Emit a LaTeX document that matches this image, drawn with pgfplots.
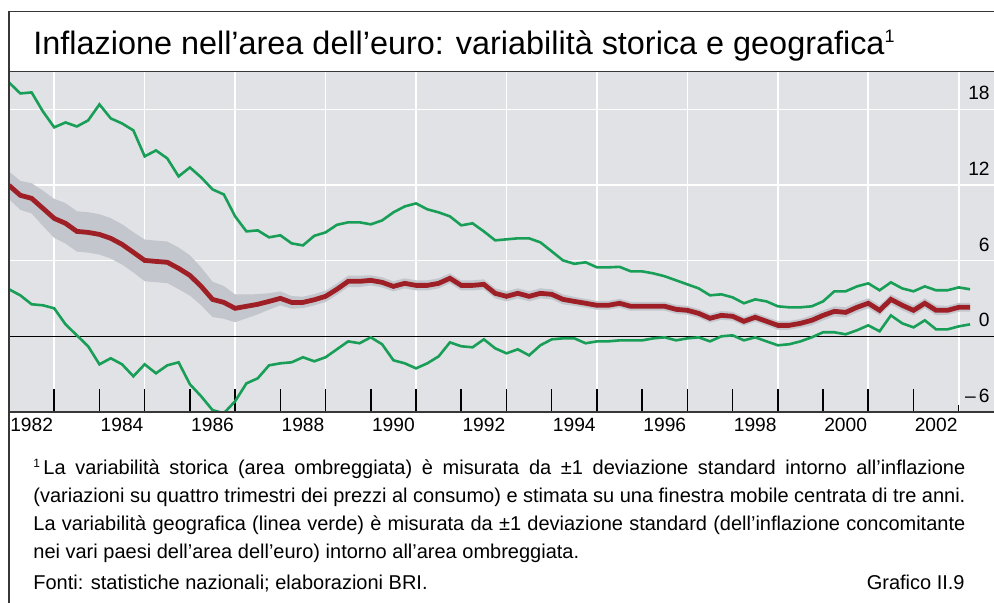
\documentclass[border=0pt]{standalone}
\usepackage{fontspec}
\setmainfont{Liberation Sans}
\usepackage{pgfplots}
\pgfplotsset{compat=1.18}
\usepgfplotslibrary{fillbetween}
\usepackage{pgfplotstable}

\definecolor{bggray}{RGB}{225,226,230}
\definecolor{bandgray}{RGB}{195,198,204}
\definecolor{infl}{RGB}{158,32,38}
\definecolor{geo}{RGB}{24,158,86}
\definecolor{framec}{RGB}{55,55,55}

% small raised footnote mark: #1 size, #2 raise
\newcommand{\fnmark}[2]{\raisebox{#2}{\fontsize{#1}{#1}\selectfont 1}}

% yr: quarter; mid: inflation; lo/hi: historical band; glo/ghi: geographic lines
\pgfplotstableread{
yr mid lo hi glo ghi
1982.00 11.97 10.87 13.07 3.73 20.13
1982.25 11.18 10.03 12.33 3.25 19.26
1982.50 10.94 9.74 12.14 2.54 19.34
1982.75 10.15 8.75 11.55 2.46 17.83
1983.00 9.35 7.80 10.90 2.22 16.57
1983.25 8.96 7.36 10.56 0.95 16.96
1983.50 8.32 6.72 9.92 0.08 16.64
1983.75 8.24 6.64 9.84 -0.79 17.12
1984.00 8.08 6.48 9.68 -2.22 18.39
1984.25 7.77 6.17 9.37 -1.74 17.28
1984.50 7.29 5.69 8.89 -2.22 16.88
1984.75 6.66 5.06 8.26 -3.17 16.33
1985.00 6.02 4.37 7.67 -2.22 14.27
1985.25 5.94 4.29 7.59 -2.93 14.74
1985.50 5.87 4.22 7.52 -2.30 14.11
1985.75 5.39 3.74 7.04 -2.06 12.68
1986.00 4.83 3.23 6.43 -3.80 13.39
1986.25 3.96 2.46 5.46 -4.76 12.60
1986.50 2.93 1.53 4.33 -5.85 11.65
1986.75 2.69 1.39 3.99 -6.10 11.25
1987.00 2.22 1.12 3.32 -5.15 9.51
1987.25 2.38 1.43 3.33 -3.73 8.32
1987.50 2.54 1.74 3.34 -3.33 8.40
1987.75 2.77 2.12 3.42 -2.30 7.85
1988.00 3.01 2.46 3.56 -2.14 8.01
1988.25 2.69 2.19 3.19 -2.06 7.37
1988.50 2.69 2.24 3.14 -1.66 7.21
1988.75 2.90 2.45 3.35 -1.98 7.97
1989.00 3.17 2.72 3.62 -1.66 8.24
1989.25 3.73 3.28 4.18 -1.03 8.84
1989.50 4.36 3.91 4.81 -0.40 9.04
1989.75 4.36 3.91 4.81 -0.55 9.04
1990.00 4.44 4.04 4.84 -0.08 8.88
1990.25 4.28 3.88 4.68 -0.63 9.19
1990.50 3.96 3.56 4.36 -1.90 9.83
1990.75 4.20 3.80 4.60 -2.14 10.30
1991.00 4.04 3.64 4.44 -2.54 10.54
1991.25 4.04 3.64 4.44 -2.14 10.07
1991.50 4.20 3.80 4.60 -1.59 9.83
1991.75 4.60 4.20 5.00 -0.48 9.51
1992.00 4.04 3.64 4.44 -0.79 8.80
1992.25 4.04 3.64 4.44 -0.87 8.96
1992.50 4.12 3.72 4.52 -0.24 8.32
1992.75 3.41 3.01 3.81 -0.95 7.61
1993.00 3.17 2.77 3.57 -1.35 7.69
1993.25 3.41 3.01 3.81 -1.03 7.77
1993.50 3.17 2.77 3.57 -1.51 7.77
1993.75 3.41 3.01 3.81 -0.71 7.45
1994.00 3.33 2.93 3.73 -0.24 6.74
1994.25 2.93 2.53 3.33 -0.16 6.02
1994.50 2.77 2.42 3.12 -0.16 5.75
1994.75 2.62 2.27 2.97 -0.55 5.87
1995.00 2.46 2.11 2.81 -0.40 5.47
1995.25 2.46 2.11 2.81 -0.40 5.47
1995.50 2.62 2.27 2.97 -0.32 5.51
1995.75 2.38 2.03 2.73 -0.32 5.15
1996.00 2.38 2.03 2.73 -0.32 5.15
1996.25 2.38 2.03 2.73 -0.16 4.99
1996.50 2.38 2.03 2.73 -0.08 4.76
1996.75 2.14 1.79 2.49 -0.32 4.44
1997.00 2.06 1.71 2.41 -0.16 4.12
1997.25 1.82 1.47 2.17 -0.08 3.80
1997.50 1.43 1.08 1.78 -0.40 3.25
1997.75 1.66 1.31 2.01 0.00 3.33
1998.00 1.59 1.24 1.94 0.08 3.09
1998.25 1.19 0.84 1.54 -0.32 2.62
1998.50 1.51 1.16 1.86 -0.08 2.93
1998.75 1.19 0.84 1.54 -0.40 2.77
1999.00 0.87 0.52 1.22 -0.71 2.38
1999.25 0.87 0.52 1.22 -0.63 2.30
1999.50 1.03 0.68 1.38 -0.40 2.30
1999.75 1.27 0.87 1.67 -0.08 2.38
2000.00 1.66 1.26 2.06 0.32 2.77
2000.25 1.98 1.58 2.38 0.32 3.57
2000.50 1.90 1.50 2.30 0.16 3.57
2000.75 2.30 1.90 2.70 0.48 3.96
2001.00 2.62 2.22 3.02 0.87 4.20
2001.25 2.06 1.66 2.46 0.40 3.65
2001.50 2.93 2.53 3.33 1.66 4.28
2001.75 2.46 2.06 2.86 1.03 3.80
2002.00 2.06 1.66 2.46 0.71 3.57
2002.25 2.62 2.22 3.02 1.27 3.96
2002.50 2.06 1.66 2.46 0.55 3.65
2002.75 2.06 1.71 2.41 0.55 3.65
2003.00 2.30 1.95 2.65 0.79 3.88
2003.25 2.30 1.95 2.65 0.95 3.73
}\data

\begin{document}
\begin{tikzpicture}
\begin{axis}[
  at={(4.5pt,95.5pt)}, anchor=south west,
  scale only axis, width=492.5pt, height=170.25pt,
  xmin=1982, xmax=2003.78, ymin=-6, ymax=21,
  axis background/.style={fill=bggray},
  axis line style={draw=none},
  tick align=inside,
  xtick={1982.5,1984.5,1986.5,1988.5,1990.5,1992.5,1994.5,1996.5,1998.5,2000.5,2002.5},
  xticklabels={1982,1984,1986,1988,1990,1992,1994,1996,1998,2000,2002},
  minor xtick={1983,1984,...,2002},
  xtick pos=left,
  major tick length=0pt,
  minor tick length=11.5pt,
  minor tick style={black, line width=0.75pt},
  extra x ticks={1983,1985,...,2003},
  extra x tick labels={},
  extra x tick style={grid=major},
  ytick={-6,0,6,12,18},
  yticklabels={–\,6,0,6,12,18},
  ymajorgrids=true,
  ytick pos=right,
  major grid style={white, line width=0.8pt},
  xticklabel style={anchor=base, inner sep=0pt, yshift=-10pt, font=\fontsize{9.6}{10}\selectfont},
  yticklabel style={anchor=base east, inner sep=0pt, xshift=-2pt, yshift=4.75pt, font=\fontsize{9.6}{10}\selectfont},
]
\draw[black, line width=0.7pt] (axis cs:1982,0) -- (axis cs:2003.78,0);
\addplot[draw=none, name path=hi, forget plot] table[x=yr, y=hi]{\data};
\addplot[draw=none, name path=lo, forget plot] table[x=yr, y=lo]{\data};
\addplot[bandgray, draw=none] fill between[of=hi and lo];
\addplot[geo, line width=1.3pt] table[x=yr, y=ghi]{\data};
\addplot[geo, line width=1.3pt] table[x=yr, y=glo]{\data};
\addplot[infl, line width=2.4pt] table[x=yr, y=mid]{\data};
\draw[black, line width=0.75pt] (axis cs:2003,-6) -- (axis cs:2003,-5.45);
\end{axis}
% frame and panel borders
\draw[framec, line width=0.75pt] (4.5pt,0) -- (4.5pt,295.75pt) -- (497pt,295.75pt);
\draw[framec, line width=0.75pt] (4.5pt,265.75pt) -- (497pt,265.75pt);
\draw[framec, line width=0.75pt] (4.5pt,95.5pt) -- (497pt,95.5pt);
% title
\node[anchor=base west, inner sep=0pt, font=\fontsize{16.2}{19}\selectfont] at (16.5pt,274pt)
  {Inflazione nell’area dell’euro: variabilità storica e geografica\fnmark{9pt}{6pt}};
% footnote
\begin{scope}[every node/.style={anchor=base west, inner sep=0pt, font=\fontsize{10}{12}\selectfont}]
\node at (16.5pt,64pt) {\makebox[466pt][s]{\fnmark{6pt}{3.8pt}\,La variabilità storica (area ombreggiata) è misurata da ±1 deviazione standard intorno all’inflazione}};
\node at (16.5pt,50pt) {\makebox[466pt][s]{(variazioni su quattro trimestri dei prezzi al consumo) e stimata su una finestra mobile centrata di tre anni.}};
\node at (16.5pt,36pt) {\makebox[466pt][s]{La variabilità geografica (linea verde) è misurata da ±1 deviazione standard (dell’inflazione concomitante}};
\node at (16.5pt,22pt) {nei vari paesi dell’area dell’euro) intorno all’area ombreggiata.};
\node at (16.5pt,6.5pt) {Fonti: statistiche nazionali; elaborazioni BRI.};
\node[anchor=base east] at (482.5pt,6.5pt) {Grafico II.9};
\end{scope}
\pgfresetboundingbox
\path[use as bounding box] (0,0) rectangle (497pt,301.5pt);
\end{tikzpicture}
\end{document}
